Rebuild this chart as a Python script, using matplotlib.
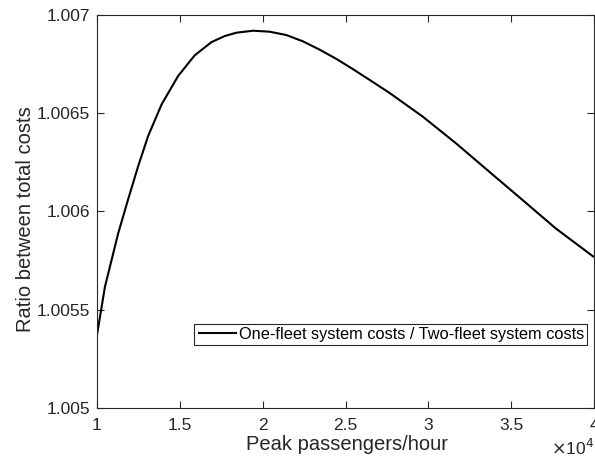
import matplotlib
matplotlib.use("Agg")
import matplotlib.pyplot as plt
from matplotlib.ticker import FuncFormatter

# Data (x in passengers/hour)
passengers = [10000, 10480, 11280, 11890, 12490, 13090, 13900, 14900, 15900,
              16910, 17710, 18420, 19420, 20420, 21430, 22430, 23430, 24440,
              25440, 26450, 27650, 29660, 31670, 33670, 35680, 37690, 39700,
              40000]
ratio = [1.005372, 1.005617, 1.005889, 1.006065, 1.006232, 1.006385,
         1.006545, 1.006690, 1.006795, 1.006862, 1.006893, 1.006910,
         1.006920, 1.006915, 1.006898, 1.006866, 1.006824, 1.006777,
         1.006725, 1.006670, 1.006604, 1.006483, 1.006347, 1.006203,
         1.006059, 1.005914, 1.005787, 1.005768]
x_ticks = [10000, 15000, 20000, 25000, 30000, 35000, 40000]
y_ticks = [1.005, 1.0055, 1.006, 1.0065, 1.007]
y_tick_labels = ["1.005", "1.0055", "1.006", "1.0065", "1.007"]
legend_label = "One-fleet system costs / Two-fleet system costs"

plt.rcParams['font.family'] = ['Liberation Sans', 'DejaVu Sans']
gray = (0.15, 0.15, 0.15)

fig = plt.figure(figsize=(5.95, 4.66), dpi=100)
ax = fig.add_axes([97/595, 1 - 408/466, 497/595, (408 - 15)/466])

ax.plot(passengers, ratio, color='black', lw=1.5, label=legend_label,
        solid_joinstyle='round', solid_capstyle='butt')

ax.set_xlim(10000, 40000)
ax.set_ylim(1.005, 1.007)
ax.set_xticks(x_ticks)
ax.xaxis.set_major_formatter(FuncFormatter(lambda v, p: f"{v/1e4:g}"))
ax.set_yticks(y_ticks)
ax.set_yticklabels(y_tick_labels)

ax.tick_params(direction='in', top=True, right=True, length=5, width=0.8,
               labelsize=12.5, colors=gray)
ax.tick_params(axis='x', pad=7)
ax.tick_params(axis='y', pad=5)
for s in ax.spines.values():
    s.set_color(gray)
    s.set_linewidth(0.8)

ax.set_xlabel("Peak passengers/hour", fontsize=14.5, color=gray)
ax.set_ylabel("Ratio between total costs", fontsize=14.5, color=gray)
ax.xaxis.set_label_coords(0.503, -0.068)
ax.yaxis.set_label_coords(-0.125, 0.48)

fig.text(594/595, 1 - 448/466, r"$\times$10$^4$", ha='right', va='center',
         fontsize=12.5, color=gray)

leg = ax.legend(loc='lower right', bbox_to_anchor=(0.986, 0.160), fontsize=11.75,
                frameon=True, fancybox=False, edgecolor=gray, framealpha=1,
                handlelength=2.4, handletextpad=0.1, borderpad=0.2,
                borderaxespad=0)
leg.get_frame().set_linewidth(0.8)

fig.savefig("out.png", dpi=100)
